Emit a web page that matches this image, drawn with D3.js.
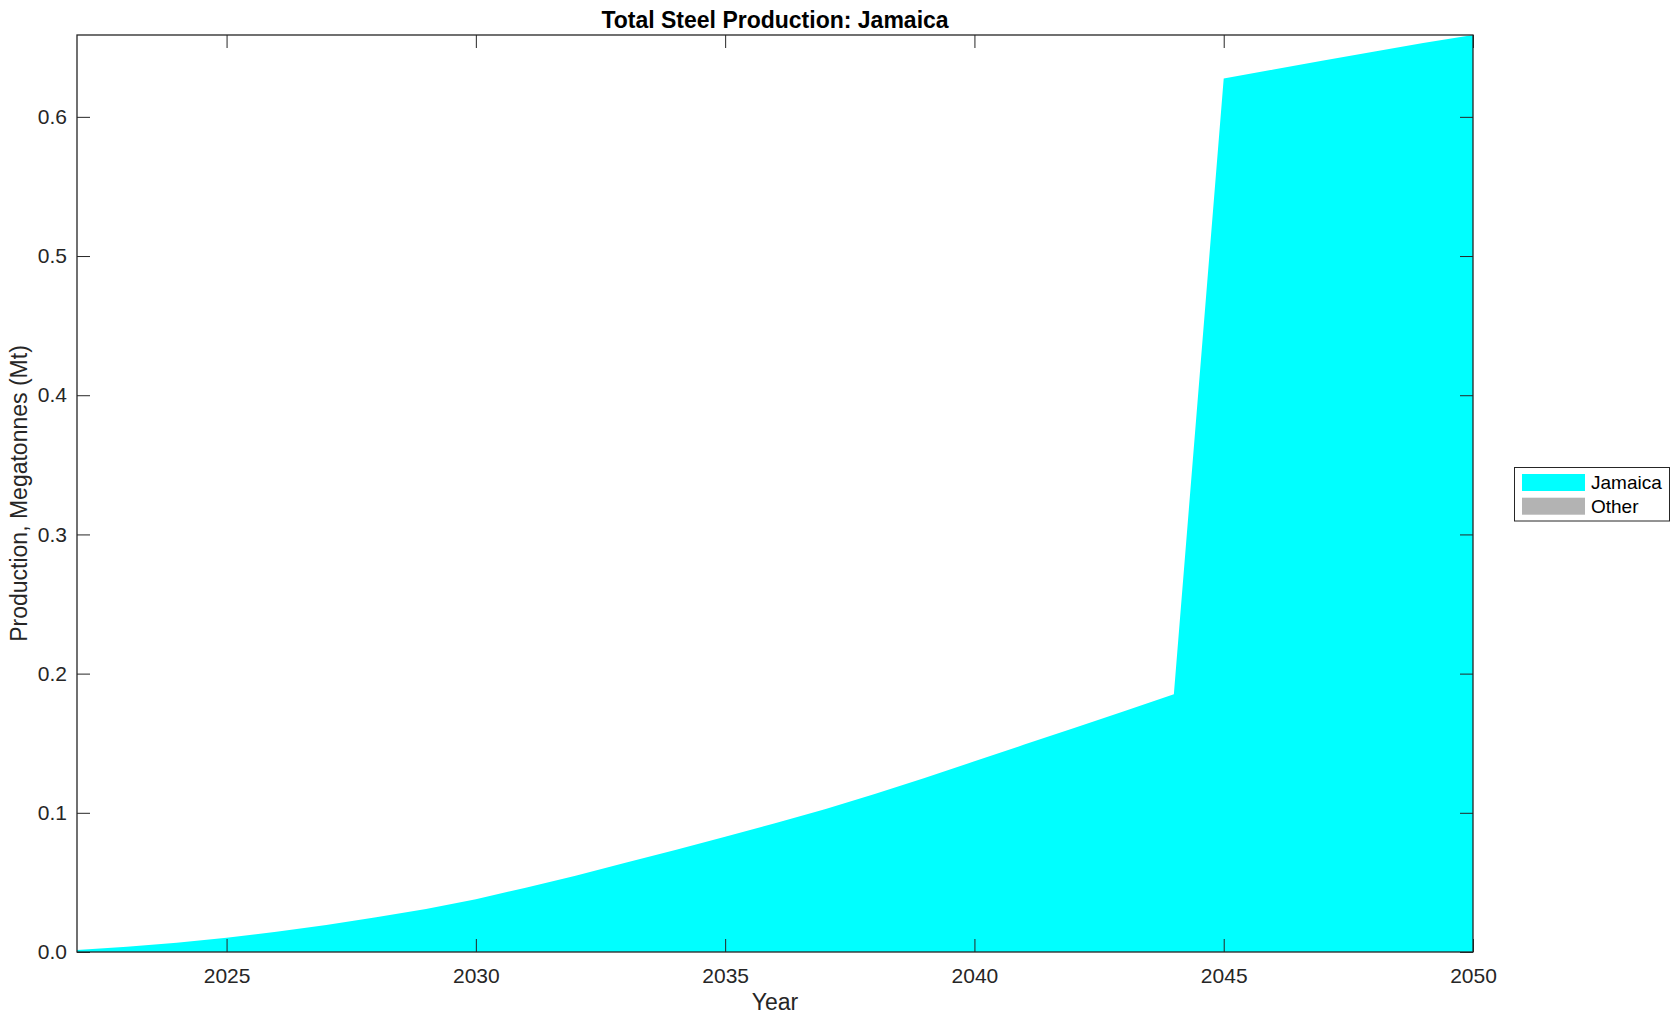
<!DOCTYPE html>
<html>
<head>
<meta charset="utf-8">
<script src="https://cdn.jsdelivr.net/npm/d3@7"></script>
<style>
  html, body { margin: 0; padding: 0; background: #fff; }
  svg { display: block; font-family: "Liberation Sans", Arial, Helvetica, sans-serif; }
</style>
</head>
<body>
<svg id="chart" width="1680" height="1021"></svg>
<script>
// ---- data ----
const years = [2022, 2023, 2024, 2025, 2026, 2027, 2028, 2029, 2030, 2031, 2032, 2033, 2034, 2035,
               2036, 2037, 2038, 2039, 2040, 2041, 2042, 2043, 2044, 2045, 2046, 2047, 2048, 2049, 2050];
const jamaica = [0.0014, 0.0038, 0.0067, 0.0102, 0.0146, 0.0194, 0.0249, 0.0309, 0.0379, 0.0462,
                 0.0548, 0.0642, 0.0733, 0.0828, 0.0925, 0.1025, 0.1135, 0.1250, 0.1370, 0.1490,
                 0.1610, 0.1730, 0.1851, 0.6276, 0.6340, 0.6405, 0.6468, 0.6530, 0.6588];
const other = years.map(() => 0);
const seriesNames = ["Jamaica", "Other"];
const seriesColors = ["#00ffff", "#b3b3b3"];
const xTicks = [2025, 2030, 2035, 2040, 2045, 2050];
const yTicks = [0, 0.1, 0.2, 0.3, 0.4, 0.5, 0.6];
const titleText = "Total Steel Production: Jamaica";
const xLabel = "Year";
const yLabel = "Production, Megatonnes (Mt)";

// ---- layout ----
const L = 77, R = 1473, T = 35, B = 952;
const svg = d3.select("#chart");
const axisColor = "#262626";

const rows = years.map((y, i) => ({ year: y, Jamaica: jamaica[i], Other: other[i] }));
const stacked = d3.stack().keys(seriesNames)(rows);
const ymax = d3.max(stacked[stacked.length - 1], d => d[1]);

const x = d3.scaleLinear().domain([d3.min(years), d3.max(years)]).range([L, R]);
const y = d3.scaleLinear().domain([0, ymax]).range([B, T]);

const area = d3.area()
  .x(d => x(d.data.year))
  .y0(d => y(d[0]))
  .y1(d => y(d[1]));

svg.append("g").selectAll("path").data(stacked).join("path")
  .attr("d", area)
  .attr("fill", (d, i) => seriesColors[i])
  .attr("stroke", "none");

// axes (ticks inward, mirrored)
const tickLen = 13;
const gx = svg.append("g").attr("transform", `translate(0,${B})`)
  .call(d3.axisBottom(x).tickValues(xTicks).tickFormat(d3.format("d")).tickSizeInner(-tickLen).tickSizeOuter(0).tickPadding(16));
const gxTop = svg.append("g").attr("transform", `translate(0,${T})`)
  .call(d3.axisTop(x).tickValues(xTicks).tickFormat("").tickSizeInner(-tickLen).tickSizeOuter(0));
const gy = svg.append("g").attr("transform", `translate(${L},0)`)
  .call(d3.axisLeft(y).tickValues(yTicks).tickFormat(d3.format(".1f")).tickSizeInner(-tickLen).tickSizeOuter(0).tickPadding(10));
const gyR = svg.append("g").attr("transform", `translate(${R},0)`)
  .call(d3.axisRight(y).tickValues(yTicks).tickFormat("").tickSizeInner(-tickLen).tickSizeOuter(0));

[gx, gxTop, gy, gyR].forEach(g => {
  g.select(".domain").remove();
  g.selectAll("line").attr("stroke", axisColor).attr("stroke-width", 1);
  g.selectAll("text").attr("fill", axisColor).attr("font-size", 21)
    .attr("font-family", "'Liberation Sans', Arial, Helvetica, sans-serif");
});

// box
svg.append("rect").attr("x", L).attr("y", T).attr("width", R - L).attr("height", B - T)
  .attr("fill", "none").attr("stroke", axisColor).attr("stroke-width", 1.3);

// title
svg.append("text").attr("x", (L + R) / 2).attr("y", 28).attr("text-anchor", "middle")
  .attr("font-size", 23).attr("font-weight", "bold").attr("fill", "#000").text(titleText);

// axis labels
svg.append("text").attr("x", (L + R) / 2).attr("y", 1010).attr("text-anchor", "middle")
  .attr("font-size", 23).attr("fill", axisColor).text(xLabel);
svg.append("text").attr("transform", `translate(27,${(T + B) / 2}) rotate(-90)`)
  .attr("text-anchor", "middle").attr("font-size", 23).attr("fill", axisColor).text(yLabel);

// legend
const lg = svg.append("g");
lg.append("rect").attr("x", 1514.5).attr("y", 467.5).attr("width", 155).attr("height", 53.5)
  .attr("fill", "#fff").attr("stroke", axisColor).attr("stroke-width", 1);
seriesNames.forEach((name, i) => {
  const yy = 474 + i * 23.7;
  lg.append("rect").attr("x", 1522).attr("y", yy).attr("width", 63).attr("height", 17)
    .attr("fill", seriesColors[i]);
  lg.append("text").attr("x", 1591).attr("y", yy + 15).attr("font-size", 19)
    .attr("fill", "#000").text(name);
});
</script>
</body>
</html>
